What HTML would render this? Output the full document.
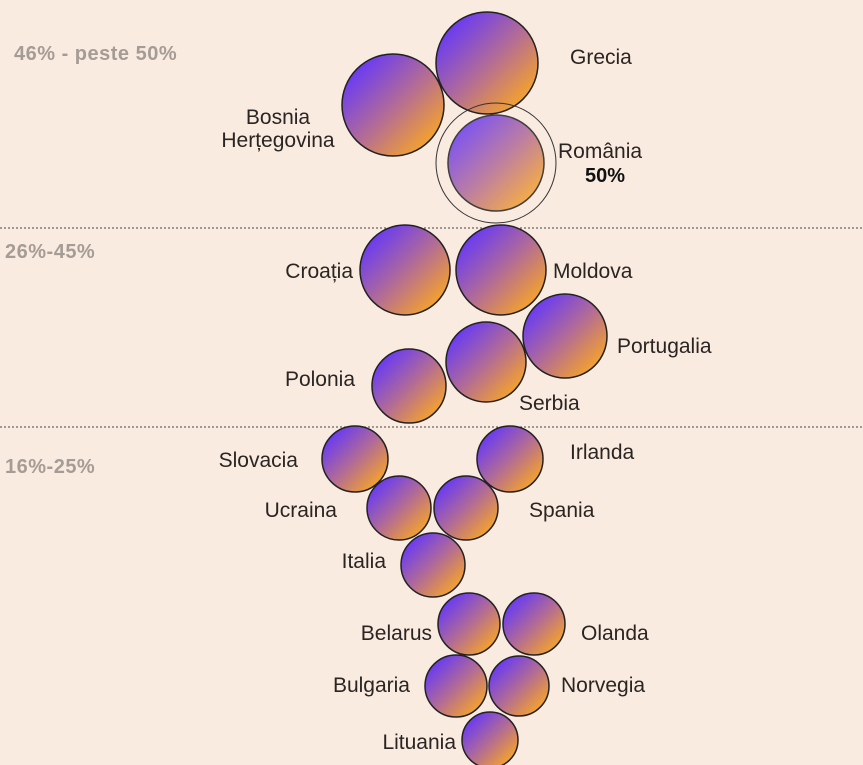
<!DOCTYPE html>
<html><head><meta charset="utf-8"><style>
html,body{margin:0;padding:0;background:#faebe0;}
svg{display:block;font-family:"Liberation Sans",sans-serif;}
.l{font-size:21px;fill:#2a2522;}
.b{font-size:20px;font-weight:bold;fill:#a59c95;letter-spacing:0.5px;}
</style></head><body>
<svg width="863" height="765" viewBox="0 0 863 765">
<defs>
<linearGradient id="g" x1="0.15" y1="0.15" x2="0.85" y2="0.85">
<stop offset="0" stop-color="#6b3cf0"/><stop offset="0.5" stop-color="#b06a98"/><stop offset="1" stop-color="#f2a030"/>
</linearGradient>
</defs>
<rect width="863" height="765" fill="#faebe0"/>
<line x1="0" y1="228" x2="863" y2="228" stroke="#444" stroke-dasharray="2,2"/>
<line x1="0" y1="427" x2="863" y2="427" stroke="#444" stroke-dasharray="2,2"/>
<g stroke="#222" stroke-width="1.5" fill="url(#g)">
<circle cx="487" cy="63" r="51"/>
<circle cx="393" cy="105" r="51"/>
<circle cx="496" cy="163" r="48" opacity="0.85"/>
<circle cx="405" cy="270" r="45"/>
<circle cx="501" cy="270" r="45"/>
<circle cx="565" cy="336" r="42"/>
<circle cx="486" cy="362" r="40"/>
<circle cx="409" cy="386" r="37"/>
<circle cx="355" cy="459" r="33"/>
<circle cx="510" cy="459" r="33"/>
<circle cx="399" cy="508" r="32"/>
<circle cx="466" cy="508" r="32"/>
<circle cx="433" cy="565" r="32"/>
<circle cx="469" cy="624" r="31"/>
<circle cx="534" cy="624" r="31"/>
<circle cx="456" cy="686" r="31"/>
<circle cx="519" cy="686" r="30"/>
<circle cx="490" cy="740" r="28"/>
</g>
<circle cx="496" cy="163" r="60" fill="none" stroke="#333" stroke-width="1"/>
<text class="b" x="14" y="60">46% - peste 50%</text>
<text class="b" x="5" y="258">26%-45%</text>
<text class="b" x="5" y="473">16%-25%</text>
<g>
<text class="l" x="570" y="64">Grecia</text>
<text class="l" x="278" y="124" text-anchor="middle">Bosnia</text>
<text class="l" x="278" y="147" text-anchor="middle">Herțegovina</text>
<text class="l" x="558" y="158">România</text>
<text x="605" y="182" text-anchor="middle" style="font-size:20px;font-weight:bold;fill:#111">50%</text>
<text class="l" x="353" y="278" text-anchor="end">Croația</text>
<text class="l" x="553" y="278">Moldova</text>
<text class="l" x="617" y="353">Portugalia</text>
<text class="l" x="355" y="386" text-anchor="end">Polonia</text>
<text class="l" x="519" y="410">Serbia</text>
<text class="l" x="298" y="467" text-anchor="end">Slovacia</text>
<text class="l" x="570" y="459">Irlanda</text>
<text class="l" x="337" y="517" text-anchor="end">Ucraina</text>
<text class="l" x="529" y="517">Spania</text>
<text class="l" x="386" y="568" text-anchor="end">Italia</text>
<text class="l" x="432" y="640" text-anchor="end">Belarus</text>
<text class="l" x="581" y="640">Olanda</text>
<text class="l" x="410" y="692" text-anchor="end">Bulgaria</text>
<text class="l" x="561" y="692">Norvegia</text>
<text class="l" x="456" y="749" text-anchor="end">Lituania</text>
</g>
</svg>
</body></html>
